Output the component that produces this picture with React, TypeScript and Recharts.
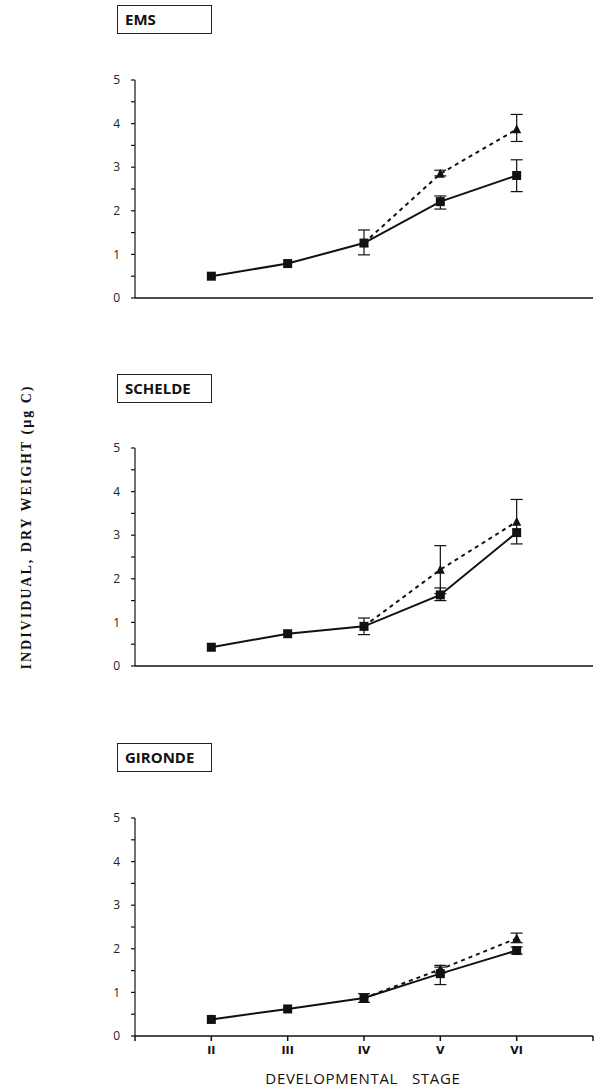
import React from 'react';
import { LineChart, Line, XAxis, YAxis, ErrorBar } from 'recharts';

// developmental stages II..VI on a numeric axis 1..7
const stages = [2, 3, 4, 5, 6];
const stageLabels: Record<number, string> = { 2: 'II', 3: 'III', 4: 'IV', 5: 'V', 6: 'VI' };

// EMS
const emsSquare = [0.5, 0.79, 1.26, 2.21, 2.81];
const emsSquareLow = [null, null, 0.99, 2.04, 2.44];
const emsSquareHigh = [null, null, 1.56, 2.34, 3.17];
const emsTriangle = [null, null, 1.26, 2.85, 3.87];
const emsTriangleLow = [null, null, null, 2.8, 3.59];
const emsTriangleHigh = [null, null, null, 2.93, 4.21];

// SCHELDE
const scheldeSquare = [0.43, 0.74, 0.91, 1.63, 3.06];
const scheldeSquareLow = [null, null, 0.72, 1.5, null];
const scheldeSquareHigh = [null, null, 1.1, 1.79, null];
const scheldeTriangle = [null, null, 0.91, 2.21, 3.31];
const scheldeTriangleLow = [null, null, null, 1.66, 2.8];
const scheldeTriangleHigh = [null, null, null, 2.76, 3.82];

// GIRONDE
const girondeSquare = [0.38, 0.62, 0.87, 1.43, 1.96];
const girondeSquareLow = [null, null, 0.77, 1.18, 1.88];
const girondeSquareHigh = [null, null, 0.97, 1.58, 2.04];
const girondeTriangle = [null, null, 0.87, 1.53, 2.24];
const girondeTriangleLow = [null, null, null, 1.45, 2.14];
const girondeTriangleHigh = [null, null, null, 1.62, 2.36];

type N = number | null;

function buildRows(sq: N[], sqLo: N[], sqHi: N[], tr: N[], trLo: N[], trHi: N[]) {
  const err = (v: N, lo: N, hi: N) =>
    v == null || (lo == null && hi == null) ? undefined : [lo == null ? 0 : v - lo, hi == null ? 0 : hi - v];
  return stages.map((stage, i) => ({
    stage,
    square: sq[i],
    squareErr: err(sq[i], sqLo[i], sqHi[i]),
    triangle: tr[i],
    triangleErr: err(tr[i], trLo[i], trHi[i]),
  }));
}

const panels = [
  { name: 'EMS', top: 60, rows: buildRows(emsSquare, emsSquareLow, emsSquareHigh, emsTriangle, emsTriangleLow, emsTriangleHigh) },
  { name: 'SCHELDE', top: 428, rows: buildRows(scheldeSquare, scheldeSquareLow, scheldeSquareHigh, scheldeTriangle, scheldeTriangleLow, scheldeTriangleHigh) },
  { name: 'GIRONDE', top: 798, rows: buildRows(girondeSquare, girondeSquareLow, girondeSquareHigh, girondeTriangle, girondeTriangleLow, girondeTriangleHigh) },
];

const titleTops = [5, 374, 743];

const SquareDot = (props: any) => {
  const { cx, cy } = props;
  if (cx == null || cy == null) return <g />;
  return <rect x={cx - 4.5} y={cy - 4.5} width={9} height={9} fill="#111" />;
};

const TriangleDot = (props: any) => {
  const { cx, cy } = props;
  if (cx == null || cy == null) return <g />;
  return <polygon points={`${cx},${cy - 5} ${cx - 4.5},${cy + 4} ${cx + 4.5},${cy + 4}`} fill="#111" />;
};

const yTicks = [0, 0.5, 1, 1.5, 2, 2.5, 3, 3.5, 4, 4.5, 5];

function Panel({ rows, showLabels }: { rows: any[]; showLabels: boolean }) {
  return (
    <LineChart width={605} height={270} data={rows} margin={{ top: 20, right: 12, bottom: 2, left: 95 }}>
      <XAxis
        type="number"
        dataKey="stage"
        domain={[1, 7]}
        ticks={[1, 2, 3, 4, 5, 6, 7]}
        tickFormatter={(v: number) => stageLabels[v] || ''}
        tick={showLabels ? { fill: '#111', fontSize: 11, fontWeight: 700, fontFamily: 'DejaVu Sans' } : false}
        tickSize={5}
        tickMargin={5}
        height={30}
        stroke="#111"
        strokeWidth={1.5}
      />
      <YAxis
        type="number"
        domain={[0, 5]}
        ticks={yTicks}
        tickFormatter={(v: number) => (Number.isInteger(v) ? String(v) : '')}
        tick={{ fill: '#222', fontSize: 12, fontFamily: 'Open Sans' }}
        tickSize={4}
        tickMargin={11}
        width={40}
        stroke="#111"
        strokeWidth={1.2}
      />
      <Line
        dataKey="triangle"
        stroke="#111"
        strokeWidth={2}
        strokeDasharray="4 4"
        dot={<TriangleDot />}
        activeDot={false}
        isAnimationActive={false}
      >
        <ErrorBar dataKey="triangleErr" direction="y" width={6} stroke="#111" strokeWidth={1.2} />
      </Line>
      <Line
        dataKey="square"
        stroke="#111"
        strokeWidth={2}
        dot={<SquareDot />}
        activeDot={false}
        isAnimationActive={false}
      >
        <ErrorBar dataKey="squareErr" direction="y" width={6} stroke="#111" strokeWidth={1.2} />
      </Line>
    </LineChart>
  );
}

export default function App() {
  return (
    <div
      style={{
        position: 'absolute',
        left: 0,
        top: 0,
        width: 605,
        height: 1090,
        background: '#fff',
        fontFamily: 'Open Sans',
      }}
    >
      {panels.map((p, i) => (
        <React.Fragment key={p.name}>
          <div
            style={{
              position: 'absolute',
              left: 117,
              top: titleTops[i],
              width: 95,
              height: 29,
              border: '1.5px solid #222',
              boxSizing: 'border-box',
              paddingLeft: 7,
              fontSize: 15,
              fontWeight: 700,
              lineHeight: '26px',
              color: '#111',
            }}
          >
            {p.name}
          </div>
          <div style={{ position: 'absolute', left: 0, top: p.top }}>
            <Panel rows={p.rows} showLabels={i === 2} />
          </div>
        </React.Fragment>
      ))}
      <div
        style={{
          position: 'absolute',
          left: 27 - 170,
          top: 527 - 9,
          width: 340,
          height: 18,
          textAlign: 'center',
          transform: 'rotate(-90deg)',
          fontFamily: 'Liberation Serif',
          fontWeight: 700,
          fontSize: 14,
          letterSpacing: 2,
          lineHeight: '18px',
          color: '#111',
          whiteSpace: 'nowrap',
        }}
      >
        INDIVIDUAL, DRY WEIGHT (µg C)
      </div>
      <div
        style={{
          position: 'absolute',
          left: 213,
          top: 1068,
          width: 300,
          textAlign: 'center',
          fontSize: 15,
          letterSpacing: 0.7,
          lineHeight: '20px',
          color: '#111',
          whiteSpace: 'pre',
        }}
      >
        {'DEVELOPMENTAL   STAGE'}
      </div>
    </div>
  );
}
